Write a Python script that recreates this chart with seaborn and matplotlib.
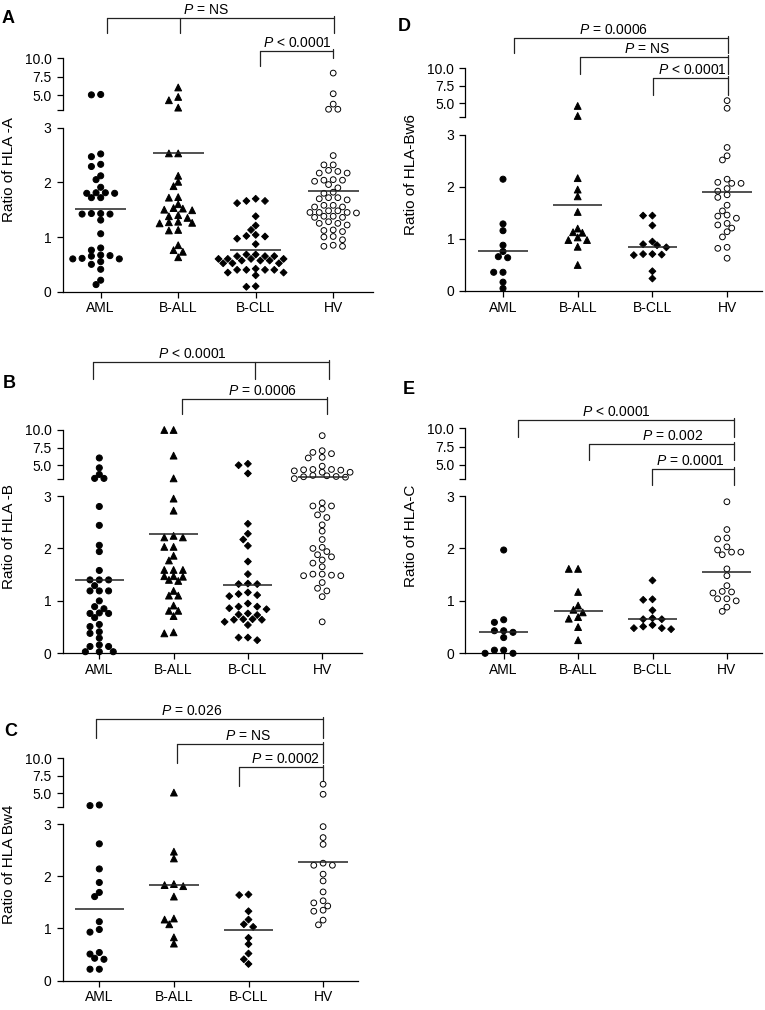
import numpy as np
import pandas as pd
import matplotlib
matplotlib.use("Agg")
import matplotlib.pyplot as plt
import matplotlib.transforms as mtransforms
import seaborn as sns

groups = ["AML", "B-ALL", "B-CLL", "HV"]

# ---- panel A : HLA-A ----
a_aml = [5.1, 5.05, 2.52, 2.47, 2.33, 2.29, 2.12, 2.05, 1.91, 1.81, 1.81, 1.80, 1.80, 1.72, 1.72,
         1.43, 1.43, 1.42, 1.42, 1.31, 1.06, 0.80, 0.76, 0.67, 0.65, 0.66, 0.61, 0.60, 0.60, 0.55,
         0.50, 0.41, 0.21, 0.13]
a_ball = [6.05, 4.77, 4.32, 3.32, 2.53, 2.53, 2.12, 2.01, 1.93, 1.73, 1.72, 1.60, 1.53, 1.52, 1.50,
          1.49, 1.40, 1.38, 1.35, 1.28, 1.27, 1.26, 1.25, 1.13, 1.12, 0.85, 0.76, 0.73, 0.63]
a_bcll = [1.70, 1.66, 1.66, 1.62, 1.38, 1.21, 1.13, 1.04, 1.02, 1.01, 0.97, 0.87, 0.68, 0.68, 0.65,
          0.65, 0.65, 0.60, 0.60, 0.60, 0.60, 0.57, 0.57, 0.57, 0.52, 0.52, 0.52, 0.42, 0.40, 0.40,
          0.40, 0.40, 0.35, 0.35, 0.30, 0.10, 0.09]
a_hv = [8.0, 5.2, 3.8, 3.1, 3.1, 2.49, 2.32, 2.32, 2.22, 2.20, 2.17, 2.17, 2.05, 2.04, 2.02, 2.04,
        1.96, 1.90, 1.82, 1.80, 1.72, 1.72, 1.70, 1.68, 1.58, 1.58, 1.55, 1.55, 1.48, 1.48, 1.45,
        1.45, 1.45, 1.44, 1.38, 1.38, 1.36, 1.36, 1.28, 1.25, 1.25, 1.22, 1.13, 1.12, 1.10, 1.01,
        1.00, 0.95, 0.85, 0.83, 0.83]
a_mid = [1.51, 2.54, 0.77, 1.84]

# ---- panel B : HLA-B ----
b_aml = [6.03, 4.63, 3.69, 3.13, 3.13, 2.80, 2.44, 2.06, 1.94, 1.58, 1.40, 1.40, 1.40, 1.29, 1.19,
         1.19, 1.19, 1.00, 0.89, 0.85, 0.77, 0.76, 0.76, 0.68, 0.55, 0.51, 0.41, 0.38, 0.29, 0.16,
         0.13, 0.13, 0.03, 0.03, 0.03]
b_ball = [10.0, 10.0, 6.36, 3.13, 2.95, 2.72, 2.24, 2.21, 2.21, 2.03, 2.03, 1.86, 1.77, 1.59, 1.59,
          1.59, 1.47, 1.47, 1.46, 1.40, 1.38, 1.19, 1.10, 1.10, 0.91, 0.81, 0.81, 0.71, 0.40, 0.38]
b_bcll = [5.2, 5.0, 3.83, 2.47, 2.28, 2.17, 2.05, 1.75, 1.51, 1.33, 1.32, 1.32, 1.16, 1.13, 1.11,
          1.09, 0.95, 0.89, 0.89, 0.86, 0.84, 0.76, 0.74, 0.73, 0.65, 0.65, 0.64, 0.64, 0.60, 0.54,
          0.30, 0.30, 0.25]
b_hv = [9.2, 7.06, 6.82, 6.64, 6.12, 6.03, 4.86, 4.4, 4.4, 4.35, 4.3, 4.2, 4.0, 4.0, 3.55, 3.5,
        3.4, 3.36, 3.3, 3.1, 2.87, 2.81, 2.81, 2.75, 2.64, 2.59, 2.45, 2.33, 2.17, 2.02, 2.00, 1.94,
        1.88, 1.84, 1.78, 1.72, 1.65, 1.51, 1.51, 1.49, 1.48, 1.48, 1.35, 1.24, 1.19, 1.08, 0.60]
b_mid = [1.39, 2.28, 1.31, 3.36]

# ---- panel C : HLA Bw4 ----
c_aml = [3.33, 3.24, 2.62, 2.14, 1.88, 1.69, 1.61, 1.13, 0.98, 0.93, 0.54, 0.51, 0.43, 0.41, 0.22, 0.22]
c_ball = [5.1, 2.47, 2.34, 1.85, 1.83, 1.81, 1.61, 1.19, 1.17, 1.08, 0.83, 0.71]
c_bcll = [1.65, 1.64, 1.33, 1.17, 1.08, 1.03, 0.82, 0.70, 0.52, 0.41, 0.32]
c_hv = [6.3, 4.86, 2.95, 2.74, 2.61, 2.25, 2.21, 2.21, 2.04, 1.91, 1.70, 1.53, 1.49, 1.43, 1.35,
        1.33, 1.16, 1.07]
c_mid = [1.37, 1.83, 0.97, 2.28]

# ---- panel D : HLA-Bw6 ----
d_aml = [2.15, 1.29, 1.16, 0.88, 0.76, 0.66, 0.64, 0.36, 0.36, 0.17, 0.05]
d_ball = [4.62, 3.19, 2.17, 1.95, 1.82, 1.52, 1.20, 1.13, 1.12, 1.03, 0.98, 0.98, 0.85, 0.50]
d_bcll = [1.45, 1.45, 1.26, 0.95, 0.90, 0.88, 0.84, 0.71, 0.70, 0.69, 0.71, 0.38, 0.24]
d_hv = [5.38, 4.29, 2.76, 2.60, 2.52, 2.15, 2.09, 2.07, 2.07, 1.97, 1.92, 1.85, 1.80, 1.65, 1.54,
        1.46, 1.44, 1.40, 1.30, 1.27, 1.21, 1.14, 1.04, 0.84, 0.82, 0.63]
d_mid = [0.77, 1.65, 0.84, 1.90]

# ---- panel E : HLA-C ----
e_aml = [1.97, 0.64, 0.59, 0.43, 0.43, 0.40, 0.30, 0.06, 0.06, 0.0, 0.0]
e_ball = [1.61, 1.61, 1.17, 0.91, 0.83, 0.78, 0.69, 0.66, 0.50, 0.25]
e_bcll = [1.39, 1.03, 1.02, 0.82, 0.67, 0.65, 0.65, 0.54, 0.51, 0.48, 0.48, 0.46]
e_hv = [2.89, 2.36, 2.20, 2.18, 2.03, 1.97, 1.93, 1.93, 1.88, 1.61, 1.48, 1.29, 1.18, 1.17, 1.15,
        1.04, 1.04, 1.00, 0.88, 0.80]
e_mid = [0.40, 0.80, 0.66, 1.55]

ylabels = {"A": "Ratio of HLA -A", "B": "Ratio of HLA -B", "C": "Ratio of HLA Bw4",
           "D": "Ratio of HLA-Bw6", "E": "Ratio of HLA-C"}

# significance brackets: label, x1, x2, extra drops, y (pixels), drop lengths, text x
brackets = {
    "A": [("$P$ = NS", 107, 334, [180], 18, 15, 15, 206),
          ("$P$ < 0.0001", 260, 333, [], 51, 15, 7, 297)],
    "B": [("$P$ < 0.0001", 93, 329, [255], 362, 17, 17, 192),
          ("$P$ = 0.0006", 182, 327, [], 399, 15, 15, 262)],
    "C": [("$P$ = 0.026", 96, 323, [], 719, 19, 19, 192),
          ("$P$ = NS", 177, 323, [], 744, 19, 19, 248),
          ("$P$ = 0.0002", 239, 323, [], 767, 19, 19, 285)],
    "D": [("$P$ = 0.0006", 514, 728, [], 38, 15, 15, 613),
          ("$P$ = NS", 580, 728, [], 57, 17, 17, 647),
          ("$P$ < 0.0001", 653, 728, [], 78, 17, 17, 692)],
    "E": [("$P$ < 0.0001", 518, 734, [], 420, 17, 17, 616),
          ("$P$ = 0.002", 589, 734, [], 444, 16, 16, 673),
          ("$P$ = 0.0001", 652, 734, [], 469, 16, 16, 690)],
}

# panel boxes in pixels (x0/x1 = axis extent, top = 10.0, up3 = upper break, low3 = 3, zero = 0)
W, H = 765, 1010
boxes = {
    "A": dict(x0=62.7, x1=373, top=58.3, up3=110, low3=127.7, zero=291.7, aml=100.7, sp=77.5, lx=2, ly=18.5),
    "B": dict(x0=62.7, x1=362, top=430, up3=479.3, low3=496, zero=653.3, aml=99.3, sp=74.3, lx=3, ly=384),
    "C": dict(x0=62.7, x1=358, top=758.3, up3=807.3, low3=824, zero=980.7, aml=99.3, sp=74.6, lx=4, ly=731),
    "D": dict(x0=465.3, x1=762, top=68.3, up3=117.3, low3=135, zero=291, aml=503, sp=74.7, lx=398, ly=26.5),
    "E": dict(x0=465.3, x1=762, top=428.3, up3=479.3, low3=496, zero=653.3, aml=503.7, sp=74.4, lx=403, ly=389.5),
}

panels = {
    "A": (a_aml, a_ball, a_bcll, a_hv, a_mid),
    "B": (b_aml, b_ball, b_bcll, b_hv, b_mid),
    "C": (c_aml, c_ball, c_bcll, c_hv, c_mid),
    "D": (d_aml, d_ball, d_bcll, d_hv, d_mid),
    "E": (e_aml, e_ball, e_bcll, e_hv, e_mid),
}

face = {"AML": "black", "B-ALL": "black", "B-CLL": "black", "HV": "white"}
marks = {"AML": "o", "B-ALL": "^", "B-CLL": "D", "HV": "o"}
msize = {"AML": 19, "B-ALL": 24, "B-CLL": 12, "HV": 17}

sns.set_theme(style="ticks")
plt.rcParams["font.family"] = ["Liberation Sans", "DejaVu Sans"]
plt.rcParams["mathtext.fontset"] = "custom"
plt.rcParams["mathtext.it"] = "Liberation Sans:italic"
plt.rcParams["mathtext.rm"] = "Liberation Sans"
for k in ["text.color", "axes.labelcolor", "xtick.color", "ytick.color", "axes.edgecolor"]:
    plt.rcParams[k] = "black"


def column_offsets(vals, ppu, sp, step_px=9.3, d=5.8):
    # discrete beeswarm: each point takes the free half-column nearest the centre
    vals = np.asarray(vals, float)
    offs = np.zeros(len(vals))
    cands = [0.0]
    for k in range(1, 14):
        cands += [-k * step_px / 2, k * step_px / 2]
    placed = []
    for i in np.argsort(-vals, kind="stable"):
        y = vals[i] * ppu
        for c in cands:
            if all((c - px) ** 2 + (y - py) ** 2 >= d * d for px, py in placed):
                break
        placed.append((c, y))
        offs[i] = c / sp
    return offs


def make_table(aml, ball, bcll, hv):
    parts = [pd.DataFrame({"group": g, "value": v}) for g, v in zip(groups, [aml, ball, bcll, hv])]
    return pd.concat(parts, ignore_index=True)


fig = plt.figure(figsize=(W / 100, H / 100), dpi=100)

for key, (aml, ball, bcll, hv, mid) in panels.items():
    bx = boxes[key]
    xlim = (-(bx["aml"] - bx["x0"]) / bx["sp"], 3 + (bx["x1"] - (bx["aml"] + 3 * bx["sp"])) / bx["sp"])
    ax = fig.add_axes([bx["x0"] / W, 1 - bx["zero"] / H, (bx["x1"] - bx["x0"]) / W,
                       (bx["zero"] - bx["low3"]) / H])
    axu = fig.add_axes([bx["x0"] / W, 1 - bx["up3"] / H, (bx["x1"] - bx["x0"]) / W,
                        (bx["up3"] - bx["top"]) / H])
    df = make_table(aml, ball, bcll, hv)
    df["gi"] = df["group"].map({g: i for i, g in enumerate(groups)})

    segs = [(ax, df[df["value"] <= 3].copy(), (bx["zero"] - bx["low3"]) / 3),
            (axu, df[df["value"] > 3].copy(), (bx["up3"] - bx["top"]) / 7)]
    for a, sub, ppu in segs:
        if sub.empty:
            continue
        sub["pos"] = sub["gi"].astype(float)
        for g in groups:
            m = sub["group"] == g
            sub.loc[m, "pos"] = sub.loc[m, "gi"] + column_offsets(sub.loc[m, "value"].values, ppu, bx["sp"])
        present = [g for g in groups if g in set(sub["group"])]
        sns.scatterplot(data=sub, x="pos", y="value", hue="group", style="group", size="group",
                        hue_order=present, style_order=present, size_order=present,
                        palette=face, markers=marks, sizes=msize, edgecolor="black",
                        linewidth=0.7, legend=False, ax=a, clip_on=False, zorder=3)

    for i, m in enumerate(mid):
        target = ax if m <= 3 else axu
        target.hlines(m, i - 0.33, i + 0.33, color="#222222", lw=1.1, zorder=4)

    # lower axis
    ax.set_xlim(xlim)
    ax.set_ylim(0, 3)
    ax.set_yticks([0, 1, 2, 3])
    ax.set_yticklabels(["0", "1", "2", "3"])
    ax.set_xticks(range(4))
    ax.set_xticklabels(groups)
    ax.set_xlabel("")
    ax.set_ylabel("")
    sns.despine(ax=ax)
    ax.tick_params(length=4, width=0.9, labelsize=10, pad=3)
    ax.tick_params(axis="y", pad=4)
    for s in ["left", "bottom"]:
        ax.spines[s].set_linewidth(0.9)
    ax.patch.set_alpha(0)

    # upper axis
    axu.set_xlim(xlim)
    axu.set_ylim(3, 10)
    axu.set_yticks([3, 5, 7.5, 10])
    axu.set_yticklabels(["", "5.0", "7.5", "10.0"])
    axu.set_xticks([])
    axu.set_xlabel("")
    axu.set_ylabel("")
    sns.despine(ax=axu, bottom=True)
    axu.tick_params(axis="y", length=4, width=0.9, labelsize=10, pad=4)
    axu.spines["left"].set_linewidth(0.9)
    axu.patch.set_alpha(0)

    # brackets
    tr = mtransforms.blended_transform_factory(axu.transData, fig.transFigure)
    tox = lambda px: (px - bx["aml"]) / bx["sp"]
    fy = lambda py: 1 - py / H
    for label, x1, x2, drops, y, dl, dr, tx in brackets[key]:
        kw = dict(color="#222222", lw=0.9, transform=tr, clip_on=False)
        axu.plot([tox(x1), tox(x2)], [fy(y), fy(y)], **kw)
        axu.plot([tox(x1), tox(x1)], [fy(y), fy(y + dl)], **kw)
        axu.plot([tox(x2), tox(x2)], [fy(y - 2), fy(y + dr)], **kw)
        for xd in drops:
            axu.plot([tox(xd), tox(xd)], [fy(y), fy(y + dl)], **kw)
        axu.text(tox(tx), fy(y - 4), label, transform=tr, ha="center", va="baseline", fontsize=10)

    # panel letter and y label
    fig.text(bx["lx"] / W, 1 - bx["ly"] / H, key, fontsize=13, fontweight="bold",
             ha="left", va="center")
    ylx = 9 if bx["x0"] < 300 else 411
    fig.text(ylx / W, 1 - ((bx["top"] + bx["zero"]) / 2 - 5) / H, ylabels[key], rotation=90,
             ha="center", va="center", fontsize=11)

fig.savefig("out.png", dpi=100)
